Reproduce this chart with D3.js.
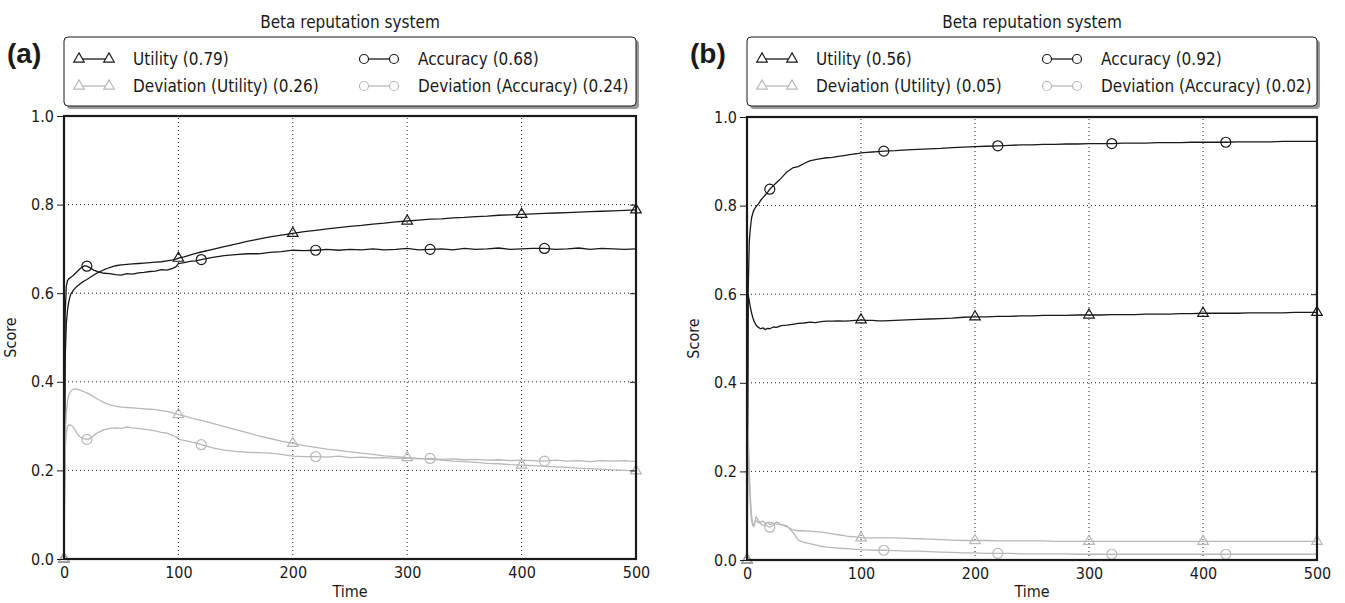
<!DOCTYPE html>
<html>
<head>
<meta charset="utf-8">
<script src="https://cdn.jsdelivr.net/npm/d3@7"></script>
<style>
  body { margin: 0; background: #fff; }
  svg { display: block; }
</style>
</head>
<body>
<div id="chart-container"></div>
<script>
// shared time grid for both panels
const times = [0,1,2,3,4,5,6,8,10,12,14,16,18,20,23,26,30,35,40,45,50,55,60,65,70,75,80,85,90,95,98,100,105,110,115,120,
  130,140,150,160,170,180,190,200,210,220,230,240,250,260,270,280,290,300,310,320,330,340,350,360,370,380,390,400,
  410,420,430,440,450,460,470,480,490,500];

// panel (a)
const utilityA = [0,0.45,0.53,0.56,0.578,0.59,0.598,0.606,0.612,0.617,0.621,0.625,0.628,0.631,0.636,0.641,0.647,0.653,0.658,0.662,0.664,0.665,0.666,0.667,0.668,0.669,0.67,0.671,0.673,0.675,0.677,0.679,0.682,0.686,0.69,0.693,
  0.699,0.705,0.711,0.717,0.722,0.727,0.731,0.735,0.739,0.742,0.745,0.748,0.751,0.753,0.756,0.758,0.761,0.763,0.765,0.767,0.768,0.77,0.771,0.773,0.774,0.776,0.777,0.778,
  0.779,0.78,0.781,0.782,0.783,0.784,0.785,0.786,0.787,0.788];
const accuracyA = [0,0.55,0.615,0.628,0.632,0.634,0.636,0.64,0.645,0.65,0.655,0.659,0.662,0.661,0.657,0.652,0.648,0.645,0.644,0.642,0.641,0.644,0.643,0.646,0.647,0.649,0.65,0.653,0.652,0.656,0.66,0.667,0.669,0.672,0.673,0.676,
  0.681,0.685,0.687,0.689,0.689,0.692,0.694,0.697,0.696,0.697,0.699,0.697,0.699,0.698,0.7,0.698,0.699,0.701,0.698,0.699,0.7,0.698,0.701,0.699,0.7,0.702,0.699,0.7,
  0.701,0.701,0.699,0.7,0.702,0.699,0.701,0.7,0.699,0.7];
const devUtilityA = [0,0.27,0.33,0.355,0.368,0.375,0.379,0.383,0.384,0.383,0.381,0.379,0.377,0.375,0.371,0.366,0.36,0.353,0.348,0.345,0.343,0.342,0.341,0.34,0.339,0.338,0.337,0.335,0.333,0.33,0.328,0.326,0.323,0.319,0.316,0.313,
  0.306,0.299,0.292,0.285,0.278,0.272,0.266,0.261,0.256,0.252,0.248,0.245,0.242,0.239,0.236,0.233,0.231,0.229,0.227,0.225,0.223,0.221,0.22,0.218,0.216,0.215,0.213,0.212,
  0.211,0.209,0.208,0.207,0.205,0.204,0.203,0.201,0.2,0.199];
const devAccuracyA = [0,0.24,0.285,0.298,0.302,0.303,0.302,0.298,0.29,0.281,0.276,0.273,0.271,0.27,0.272,0.279,0.286,0.292,0.295,0.296,0.295,0.298,0.296,0.295,0.293,0.291,0.289,0.286,0.284,0.279,0.276,0.27,0.268,0.265,0.262,0.258,
  0.251,0.246,0.243,0.241,0.24,0.239,0.236,0.232,0.231,0.231,0.23,0.232,0.229,0.23,0.228,0.229,0.227,0.228,0.226,0.227,0.225,0.226,0.224,0.225,0.223,0.224,0.222,0.223,
  0.222,0.221,0.223,0.221,0.222,0.22,0.222,0.221,0.222,0.22];

// panel (b)
const utilityB = [0,0.6,0.585,0.57,0.558,0.548,0.54,0.53,0.525,0.522,0.524,0.52,0.523,0.522,0.526,0.525,0.529,0.53,0.532,0.534,0.535,0.537,0.536,0.538,0.539,0.539,0.54,0.539,0.54,0.541,0.541,0.542,0.541,0.541,0.54,0.54,
  0.541,0.542,0.543,0.544,0.545,0.546,0.548,0.549,0.549,0.55,0.55,0.551,0.551,0.552,0.552,0.552,0.553,0.553,0.553,0.554,0.554,0.554,0.555,0.555,0.555,0.556,0.556,0.557,
  0.557,0.557,0.557,0.558,0.558,0.558,0.558,0.559,0.559,0.559];
const accuracyB = [0,0.6,0.72,0.75,0.772,0.782,0.79,0.798,0.804,0.812,0.818,0.824,0.83,0.837,0.845,0.852,0.862,0.876,0.885,0.888,0.895,0.901,0.904,0.906,0.908,0.909,0.911,0.913,0.915,0.917,0.918,0.919,0.92,0.921,0.922,0.923,
  0.924,0.926,0.927,0.928,0.929,0.931,0.932,0.933,0.934,0.935,0.936,0.937,0.937,0.938,0.938,0.939,0.939,0.94,0.94,0.94,0.941,0.941,0.941,0.942,0.942,0.942,0.943,0.943,
  0.943,0.943,0.944,0.944,0.944,0.944,0.945,0.945,0.945,0.945];
const devUtilityB = [0,0.29,0.2,0.14,0.1,0.08,0.075,0.098,0.088,0.085,0.088,0.082,0.085,0.08,0.083,0.081,0.08,0.075,0.068,0.066,0.066,0.065,0.064,0.063,0.061,0.059,0.057,0.055,0.053,0.052,0.051,0.05,0.05,0.05,0.05,0.05,
  0.05,0.049,0.048,0.047,0.046,0.045,0.044,0.044,0.044,0.043,0.043,0.043,0.043,0.043,0.042,0.042,0.042,0.042,0.042,0.042,0.042,0.042,0.042,0.042,0.042,0.042,0.042,0.042,
  0.042,0.042,0.042,0.042,0.042,0.042,0.042,0.042,0.042,0.042];
const devAccuracyB = [0,0.27,0.18,0.12,0.09,0.078,0.082,0.088,0.085,0.082,0.078,0.08,0.076,0.074,0.079,0.086,0.08,0.077,0.063,0.045,0.04,0.037,0.034,0.031,0.029,0.028,0.027,0.026,0.025,0.024,0.024,0.023,0.023,0.022,0.022,0.022,
  0.021,0.02,0.02,0.019,0.018,0.017,0.016,0.016,0.015,0.015,0.015,0.014,0.014,0.014,0.014,0.014,0.013,0.013,0.013,0.013,0.013,0.013,0.013,0.013,0.013,0.013,0.013,0.013,
  0.013,0.013,0.013,0.013,0.013,0.013,0.013,0.013,0.013,0.013];

const legendLabelsA = ["Utility (0.79)", "Accuracy (0.68)", "Deviation (Utility) (0.26)", "Deviation (Accuracy) (0.24)"];
const legendLabelsB = ["Utility (0.56)", "Accuracy (0.92)", "Deviation (Utility) (0.05)", "Deviation (Accuracy) (0.02)"];

const xTicks = [0, 100, 200, 300, 400, 500];
const yTicks = [0, 0.2, 0.4, 0.6, 0.8, 1.0];
const triangleTimes = [0, 100, 200, 300, 400, 500];
const circleTimes = [20, 120, 220, 320, 420];

const narrow = "'Liberation Sans Narrow', 'DejaVu Sans Condensed', 'Roboto Condensed', sans-serif";
const black = "#1a1a1a";
const grey = "#b8b8b8";

const svg = d3.select("#chart-container")
  .append("svg")
    .attr("width", 1345)
    .attr("height", 603);

svg.append("rect").attr("width", 1345).attr("height", 603).attr("fill", "#fff");

function drawPanel(p) {
  const x = d3.scaleLinear().domain([0, 500]).range([p.left, p.left + p.width]);
  const y = d3.scaleLinear().domain([0, 1]).range([p.top + p.height, p.top]);
  const g = svg.append("g");

  // grid
  g.append("g").selectAll("line").data(xTicks.slice(1, -1)).join("line")
    .attr("x1", d => x(d)).attr("x2", d => x(d))
    .attr("y1", y(0)).attr("y2", y(1))
    .attr("stroke", "#222").attr("stroke-width", 1).attr("stroke-dasharray", "1,3");
  g.append("g").selectAll("line").data(yTicks.slice(1, -1)).join("line")
    .attr("x1", x(0)).attr("x2", x(500))
    .attr("y1", d => y(d)).attr("y2", d => y(d))
    .attr("stroke", "#222").attr("stroke-width", 1).attr("stroke-dasharray", "1,3");

  // series
  const series = [
    { values: p.utility, color: black, marker: "tri", at: triangleTimes },
    { values: p.accuracy, color: black, marker: "circ", at: circleTimes },
    { values: p.devUtility, color: grey, marker: "tri", at: triangleTimes },
    { values: p.devAccuracy, color: grey, marker: "circ", at: circleTimes }
  ];

  const line = d3.line()
    .x((d, i) => x(times[i]))
    .y(d => y(d));

  const tri = d3.symbol(d3.symbolTriangle, 48);

  series.forEach(s => {
    g.append("path")
      .datum(s.values)
      .attr("fill", "none")
      .attr("stroke", s.color)
      .attr("stroke-width", 1.3)
      .attr("stroke-linejoin", "round")
      .attr("d", line);

    const pts = s.at.map(t => ({ t: t, v: s.values[times.indexOf(t)] }));
    if (s.marker === "tri") {
      g.append("g").selectAll("path").data(pts).join("path")
        .attr("transform", d => `translate(${x(d.t)},${y(d.v)})`)
        .attr("d", tri)
        .attr("fill", "none")
        .attr("stroke", s.color)
        .attr("stroke-width", 1.2);
    } else {
      g.append("g").selectAll("circle").data(pts).join("circle")
        .attr("cx", d => x(d.t)).attr("cy", d => y(d.v))
        .attr("r", 5)
        .attr("fill", "none")
        .attr("stroke", s.color)
        .attr("stroke-width", 1.2);
    }
  });

  // axes
  const left = g.append("g")
    .attr("transform", `translate(${x(0)},0)`)
    .call(d3.axisLeft(y).tickValues(yTicks).tickFormat(d3.format(".1f")).tickSize(7).tickPadding(3));
  left.select(".domain").remove();
  left.selectAll("line").attr("stroke", black);
  left.selectAll("text").attr("font-family", narrow).attr("font-size", 16).attr("fill", black);

  const right = g.append("g")
    .attr("transform", `translate(${x(500)},0)`)
    .call(d3.axisLeft(y).tickValues(yTicks.slice(1, -1)).tickSize(6).tickFormat(""));
  right.select(".domain").remove();
  right.selectAll("line").attr("stroke", black);

  const bottom = g.append("g")
    .attr("transform", `translate(0,${y(0)})`)
    .call(d3.axisBottom(x).tickValues(xTicks).tickSize(0).tickPadding(8));
  bottom.select(".domain").remove();
  bottom.selectAll("text").attr("font-family", narrow).attr("font-size", 16).attr("fill", black);

  // frame
  g.append("rect")
    .attr("x", x(0)).attr("y", y(1))
    .attr("width", x(500) - x(0)).attr("height", y(0) - y(1))
    .attr("fill", "none").attr("stroke", black).attr("stroke-width", 2.2);

  // labels
  g.append("text")
    .attr("x", (x(0) + x(500)) / 2).attr("y", 28)
    .attr("text-anchor", "middle")
    .attr("font-family", narrow).attr("font-size", 17).attr("fill", black)
    .text("Beta reputation system");

  g.append("text")
    .attr("x", (x(0) + x(500)) / 2).attr("y", 597)
    .attr("text-anchor", "middle")
    .attr("font-family", narrow).attr("font-size", 16).attr("fill", black)
    .text("Time");

  g.append("text")
    .attr("transform", `translate(${p.left - 48},${(y(0) + y(1)) / 2}) rotate(-90)`)
    .attr("text-anchor", "middle")
    .attr("font-family", narrow).attr("font-size", 16).attr("fill", black)
    .text("Score");

  g.append("text")
    .attr("x", p.left - 57).attr("y", 63)
    .attr("font-family", "'Liberation Sans', Arial, sans-serif")
    .attr("font-weight", "bold").attr("font-size", 28).attr("fill", black)
    .text(p.tag);

  // legend
  const lg = g.append("g").attr("transform", `translate(${p.left},37)`);
  lg.append("rect")
    .attr("x", 3).attr("y", 3).attr("width", p.width).attr("height", 69)
    .attr("rx", 4).attr("fill", "#999");
  lg.append("rect")
    .attr("x", 0).attr("y", 0).attr("width", p.width).attr("height", 69)
    .attr("rx", 4).attr("fill", "#fff").attr("stroke", black).attr("stroke-width", 1);

  const cols = [15, 300];
  const rows = [22, 49];
  series.forEach((s, i) => {
    const cx = cols[i % 2];
    const cy = rows[Math.floor(i / 2)];
    const item = lg.append("g").attr("transform", `translate(${cx},${cy})`);
    item.append("line").attr("x1", 0).attr("x2", 30)
      .attr("stroke", s.color).attr("stroke-width", 1.3);
    [0, 30].forEach(mx => {
      if (s.marker === "tri") {
        item.append("path").attr("transform", `translate(${mx},0)`).attr("d", tri)
          .attr("fill", "#fff").attr("stroke", s.color).attr("stroke-width", 1.2);
      } else {
        item.append("circle").attr("cx", mx).attr("r", 4.5)
          .attr("fill", "#fff").attr("stroke", s.color).attr("stroke-width", 1.2);
      }
    });
    item.append("text")
      .attr("x", 54).attr("y", 0).attr("dy", "0.35em")
      .attr("font-family", narrow).attr("font-size", 17).attr("fill", black)
      .text(p.labels[i]);
  });
}

drawPanel({
  tag: "(a)", left: 64, top: 116, width: 572, height: 443,
  utility: utilityA, accuracy: accuracyA, devUtility: devUtilityA, devAccuracy: devAccuracyA,
  labels: legendLabelsA
});

drawPanel({
  tag: "(b)", left: 747, top: 117, width: 570, height: 443,
  utility: utilityB, accuracy: accuracyB, devUtility: devUtilityB, devAccuracy: devAccuracyB,
  labels: legendLabelsB
});
</script>
</body>
</html>
